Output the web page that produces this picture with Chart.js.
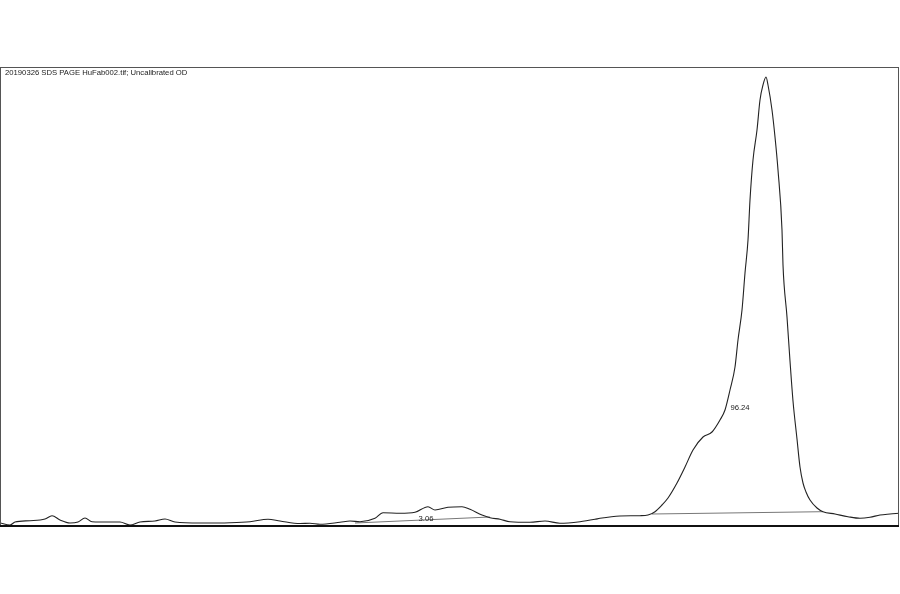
<!DOCTYPE html>
<html>
<head>
<meta charset="utf-8">
<script src="https://cdn.jsdelivr.net/npm/chart.js@4/dist/chart.umd.min.js"></script>
<style>
  html, body { margin: 0; padding: 0; background: #fff; }
  #wrap { width: 900px; height: 594px; }
</style>
</head>
<body>
<div id="wrap"><canvas id="densChart" width="900" height="594"></canvas></div>
<script>
// Lane profile: position along the lane and optical density
const positions = [0, 10, 15, 30, 45, 52, 60, 70, 78, 85, 92, 110, 120, 130, 140, 155, 165, 175, 200, 230,
    250, 268, 280, 300, 310, 320, 340, 350, 360, 375, 383, 400, 415, 428, 435, 448, 462, 470, 482, 490,
    500, 510, 530, 545, 560, 580, 595, 600, 620, 640, 648, 655, 662, 668, 677, 685, 693, 703, 712, 720,
    725, 730, 735, 738, 742, 745, 748, 750, 753, 757, 760, 763, 766, 768, 772, 775, 778, 782, 783, 787,
    790, 793, 797, 800, 803, 806, 810, 817, 823, 835, 848, 860, 870, 880, 890, 899];
const density = [4, 2, 5, 6.3, 8, 11.3, 7, 4, 5, 9, 5.3, 5, 5, 2, 5, 6, 8, 5, 4, 4.3,
    5.3, 7.7, 6, 3.5, 3.7, 2.7, 4.7, 6, 5.3, 8.7, 14.3, 13.7, 14.7, 20.3, 17, 19.7, 20.3, 17.7, 12, 9.3,
    7.7, 5.3, 4.7, 6, 3.7, 5.3, 7.7, 8.7, 11, 11.3, 12, 15.3, 22, 29, 44, 60, 77, 90, 95, 107,
    117, 137, 160, 187, 217, 254, 287, 327, 367, 397, 427, 442, 450, 442, 417, 390, 357, 297, 262, 210,
    166, 126, 88, 60, 44, 35, 27, 19, 15.3, 13, 10.3, 8.7, 9.7, 12, 13, 13.7];

// Peak baselines and their area percentages
const baseA = [{ x: 355, y: 4 }, { x: 490, y: 10 }];
const baseB = [{ x: 652, y: 13 }, { x: 823, y: 15.3 }];
const peakLabels = [
    { text: '3.06', x: 426, y: 8 },
    { text: '96.24', x: 740, y: 119 }
];
const titleText = '20190326 SDS PAGE HuFab002.tif; Uncalibrated OD';

const profile = positions.map((p, i) => ({ x: p, y: density[i] }));

// Frame, title and peak labels
const decorPlugin = {
    id: 'decor',
    afterDatasetsDraw(chart) {
        const { ctx, chartArea, scales } = chart;
        ctx.save();
        ctx.strokeStyle = '#555';
        ctx.lineWidth = 1;
        ctx.strokeRect(chartArea.left + 0.5, chartArea.top + 0.5,
            chartArea.right - chartArea.left - 1, chartArea.bottom - chartArea.top - 1);
        ctx.strokeStyle = '#111';
        ctx.lineWidth = 2;
        ctx.beginPath();
        ctx.moveTo(chartArea.left, chartArea.bottom - 1);
        ctx.lineTo(chartArea.right, chartArea.bottom - 1);
        ctx.stroke();

        ctx.fillStyle = '#222';
        ctx.font = '7.7px "Liberation Sans", Arial, sans-serif';
        ctx.textBaseline = 'middle';
        ctx.textAlign = 'left';
        ctx.fillText(titleText, chartArea.left + 5, chartArea.top + 6);

        ctx.textAlign = 'center';
        peakLabels.forEach(l => {
            ctx.fillText(l.text, scales.x.getPixelForValue(l.x), scales.y.getPixelForValue(l.y));
        });
        ctx.restore();
    }
};

new Chart(document.getElementById('densChart'), {
    type: 'line',
    data: {
        datasets: [
            {
                data: profile,
                borderColor: '#222',
                borderWidth: 1.1,
                pointRadius: 0,
                cubicInterpolationMode: 'monotone',
                fill: false
            },
            {
                data: baseA,
                borderColor: '#777',
                borderWidth: 1,
                pointRadius: 0,
                fill: false
            },
            {
                data: baseB,
                borderColor: '#777',
                borderWidth: 1,
                pointRadius: 0,
                fill: false
            }
        ]
    },
    options: {
        responsive: false,
        animation: false,
        layout: { padding: { top: 67, bottom: 67, left: 0, right: 1 } },
        plugins: {
            legend: { display: false },
            tooltip: { enabled: false }
        },
        scales: {
            x: { type: 'linear', display: false, min: 0, max: 899 },
            y: { type: 'linear', display: false, min: 0, max: 460 }
        }
    },
    plugins: [decorPlugin]
});
</script>
</body>
</html>
